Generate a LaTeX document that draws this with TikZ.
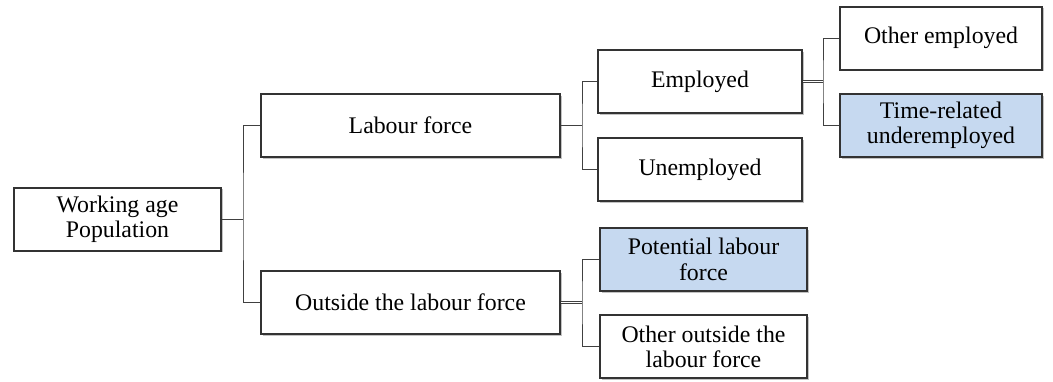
\documentclass[tikz,border=0pt]{standalone}
\usepackage{fontspec}
\setmainfont{Liberation Serif}
\usetikzlibrary{shadows}
\definecolor{boxblue}{RGB}{198,217,240}
\tikzset{
  box/.style={draw=black!80, line width=2pt, fill=white, align=center, inner sep=0pt,
    minimum height=63pt, font=\fontsize{23.8}{25.3}\selectfont,
    drop shadow={shadow xshift=1.8pt, shadow yshift=-1.8pt, opacity=0.4, fill=black!60}},
  hibox/.style={box, fill=boxblue},
  link/.style={line width=0.8pt, draw=black!75},
  dlink/.style={link, double, double distance=1.2pt}
}

\begin{document}
\begin{tikzpicture}[x=1pt, y=-1pt]
			%%%%% START %%%%%
			\useasboundingbox (0,0) rectangle (1053,381);
			
			\node[box, minimum width=207pt] (wap) at (117.5,219) {Working age\\Population};
			
			\node[box, minimum width=299pt] (lab) at (410.5,125.5) {Labour force};
			\node[box, minimum width=299pt] (out) at (410.5,302.5) {Outside the labour force};
			
			\node[box, minimum width=204pt] (emp) at (700,81.5) {Employed};
			\node[box, minimum width=204pt] (unemp) at (700,169.5) {Unemployed};
			
			\node[box, minimum width=202pt] (oth) at (941,38) {Other employed};
			\node[hibox, minimum width=202pt] (tru) at (941,125.5) {Time-related\\underemployed};
			
			\node[hibox, minimum width=207pt] (pot) at (703.5,259.5) {Potential labour\\force};
			\node[box, minimum width=207pt] (oout) at (703.5,346.7) {Other outside the\\labour force};
			
			\draw[link] (wap.east) -- ++(21,0) coordinate (j1);
			\draw[link] (lab.west) -| (j1) |- (out.west);
			
			\draw[link] (lab.east) -- ++(21,0) coordinate (j2);
			\draw[link] (emp.west) -| (j2) |- (unemp.west);
			
			\draw[dlink] (emp.east) -- ++(20,0) coordinate (j3);
			\draw[link] (oth.west) -| (j3) |- (tru.west);
			
			\draw[dlink] (out.east) -- ++(21,0) coordinate (j4);
			\draw[link] (pot.west) -| (j4) |- (oout.west);
			
			%%%%% END %%%%%
\end{tikzpicture}
\end{document}
